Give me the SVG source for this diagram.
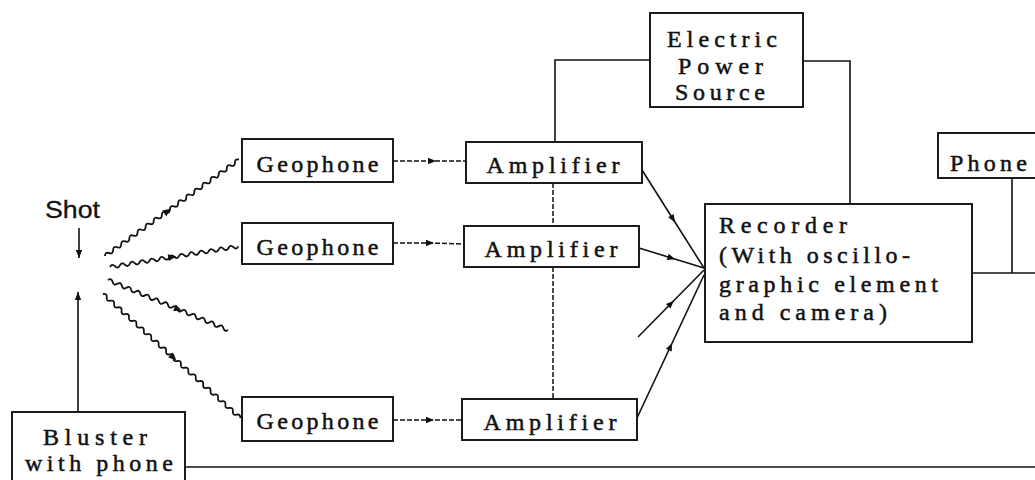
<svg xmlns="http://www.w3.org/2000/svg" width="1035" height="480" viewBox="0 0 1035 480">
<style>
.box{fill:#fff;stroke:#111;stroke-width:1.9}
.ln{fill:none;stroke:#111;stroke-width:1.6}
.dash{fill:none;stroke:#111;stroke-width:1.5;stroke-dasharray:5 2}
.wave{fill:none;stroke:#111;stroke-width:1.8;stroke-linejoin:round}
.t{font-family:"Liberation Serif","DejaVu Serif",serif;font-size:24px;fill:#111;stroke:#111;stroke-width:0.5}
.s{font-family:"Liberation Sans",Arial,sans-serif;font-size:23px;fill:#111;stroke:#111;stroke-width:0.3}
</style>
<defs>
<marker id="ah" viewBox="0 0 10 10" refX="5" refY="5" markerWidth="11" markerHeight="8" markerUnits="userSpaceOnUse" orient="auto">
<path d="M0,1 L10,5 L0,9 Z" fill="#111"/>
</marker>
<marker id="ah2" viewBox="0 0 10 10" refX="10" refY="5" markerWidth="12" markerHeight="8" markerUnits="userSpaceOnUse" orient="auto">
<path d="M0,1 L10,5 L0,9 Z" fill="#111"/>
</marker>
</defs>
<rect width="1035" height="480" fill="#fff"/>

<g id="connectors">
<!-- shot arrows -->
<path class="ln" d="M79,228 L79,258" marker-end="url(#ah2)"/>
<path class="ln" d="M78,412 L78,292" marker-end="url(#ah2)"/>
<!-- seismic waves -->
<g transform="translate(105,256) rotate(-35.7)">
<path class="wave" d="M0,0 q2.5,-3.5 5,0 t5,0 t5,0 t5,0 t5,0 t5,0 t5,0 t5,0 t5,0 t5,0 t5,0 t5,0 t5,0 t5,0 t5,0 t5,0 t5,0 t5,0 t5,0 t5,0 t5,0 t5,0 t5,0 t5,0 t5,0 t5,0 t5,0 t5,0 t5,0 t5,0 t5,0 t5,0 t5,0"/>
<path d="M73,-3.5 L81,0 L73,3.5 Z" fill="#111"/>
</g>
<g transform="translate(110,267) rotate(-9.1)">
<path class="wave" d="M0,0 q2.5,-3.5 5,0 t5,0 t5,0 t5,0 t5,0 t5,0 t5,0 t5,0 t5,0 t5,0 t5,0 t5,0 t5,0 t5,0 t5,0 t5,0 t5,0 t5,0 t5,0 t5,0 t5,0 t5,0 t5,0 t5,0 t5,0 t5,0"/>
<path d="M59,-3.5 L67,0 L59,3.5 Z" fill="#111"/>
</g>
<g transform="translate(108,280) rotate(22.6)">
<path class="wave" d="M0,0 q2.5,-3.5 5,0 t5,0 t5,0 t5,0 t5,0 t5,0 t5,0 t5,0 t5,0 t5,0 t5,0 t5,0 t5,0 t5,0 t5,0 t5,0 t5,0 t5,0 t5,0 t5,0 t5,0 t5,0 t5,0 t5,0 t5,0 t5,0"/>
<path d="M72,-3.5 L80,0 L72,3.5 Z" fill="#111"/>
</g>
<g transform="translate(103,294) rotate(42.1)">
<path class="wave" d="M0,0 q2.5,-3.5 5,0 t5,0 t5,0 t5,0 t5,0 t5,0 t5,0 t5,0 t5,0 t5,0 t5,0 t5,0 t5,0 t5,0 t5,0 t5,0 t5,0 t5,0 t5,0 t5,0 t5,0 t5,0 t5,0 t5,0 t5,0 t5,0 t5,0 t5,0 t5,0 t5,0 t5,0 t5,0 t5,0 t5,0 t5,0 t5,0 t5,0"/>
<path d="M91,-3.5 L99,0 L91,3.5 Z" fill="#111"/>
</g>
<!-- geophone to amplifier -->
<path class="dash" d="M393,161 L432,161 L466,161" marker-mid="url(#ah)"/>
<path class="dash" d="M393,243 L430,243 L464,244" marker-mid="url(#ah)"/>
<path class="dash" d="M393,420 L430,420 L462,420" marker-mid="url(#ah)"/>
<!-- amplifier interconnect -->
<path class="dash" d="M553,183 L553,226"/>
<path class="dash" d="M553,267 L553,399"/>
<!-- amplifiers to recorder -->
<path class="ln" d="M642,170 L673,219 L704,268" marker-mid="url(#ah)"/>
<path class="ln" d="M639,248 L671.5,258 L704,268" marker-mid="url(#ah)"/>
<path class="ln" d="M638,337 L671,303.5 L704,270" marker-mid="url(#ah)"/>
<path class="ln" d="M637,418 L670.5,346.5 L704,275" marker-mid="url(#ah)"/>
<!-- power -->
<path class="ln" d="M650,60 L555,60 L555,142"/>
<path class="ln" d="M803,61 L850,61 L850,204"/>
<!-- phone -->
<path class="ln" d="M1012,178 L1012,273"/>
<path class="ln" d="M972,273 L1035,273"/>
<!-- bluster line -->
<path class="ln" d="M185,467 L1035,467"/>
</g>

<g id="shot">
<text class="s" x="45" y="218" textLength="55" lengthAdjust="spacingAndGlyphs">Shot</text>
</g>

<g id="geophone1">
<rect class="box" x="242" y="139" width="151" height="43"/>
<text class="t" x="317.5" y="172" text-anchor="middle" textLength="122" lengthAdjust="spacing">Geophone</text>
</g>
<g id="geophone2">
<rect class="box" x="242" y="223" width="151" height="41"/>
<text class="t" x="317.5" y="255" text-anchor="middle" textLength="122" lengthAdjust="spacing">Geophone</text>
</g>
<g id="geophone3">
<rect class="box" x="242" y="397" width="151" height="44"/>
<text class="t" x="317.5" y="429" text-anchor="middle" textLength="122" lengthAdjust="spacing">Geophone</text>
</g>

<g id="amplifier1">
<rect class="box" x="466" y="142" width="176" height="41"/>
<text class="t" x="553" y="173" text-anchor="middle" textLength="133" lengthAdjust="spacing">Amplifier</text>
</g>
<g id="amplifier2">
<rect class="box" x="464" y="226" width="175" height="41"/>
<text class="t" x="551" y="257" text-anchor="middle" textLength="133" lengthAdjust="spacing">Amplifier</text>
</g>
<g id="amplifier3">
<rect class="box" x="462" y="399" width="175" height="41"/>
<text class="t" x="550" y="430" text-anchor="middle" textLength="133" lengthAdjust="spacing">Amplifier</text>
</g>

<g id="power">
<rect class="box" x="650" y="13" width="153" height="94"/>
<text class="t" x="722" y="47" text-anchor="middle" textLength="110" lengthAdjust="spacing">Electric</text>
<text class="t" x="720.5" y="74" text-anchor="middle" textLength="85" lengthAdjust="spacing">Power</text>
<text class="t" x="720" y="100" text-anchor="middle" textLength="90" lengthAdjust="spacing">Source</text>
</g>

<g id="recorder">
<rect class="box" x="705" y="204" width="267" height="138"/>
<text class="t" x="719" y="233" font-size="23" textLength="128" lengthAdjust="spacing">Recorder</text>
<text class="t" x="719" y="263" font-size="23" textLength="191" lengthAdjust="spacing">(With oscillo-</text>
<text class="t" x="719" y="292" font-size="23" textLength="219" lengthAdjust="spacing">graphic element</text>
<text class="t" x="719" y="320" font-size="23" textLength="168" lengthAdjust="spacing">and camera)</text>
</g>

<g id="phone">
<rect class="box" x="938" y="133" width="110" height="45"/>
<text class="t" x="950" y="171" textLength="77" lengthAdjust="spacing">Phone</text>
</g>

<g id="bluster">
<rect class="box" x="12" y="412" width="173" height="80"/>
<text class="t" x="95" y="445" font-size="23" text-anchor="middle" textLength="104" lengthAdjust="spacing">Bluster</text>
<text class="t" x="99" y="471" font-size="23" text-anchor="middle" textLength="148" lengthAdjust="spacing">with phone</text>
</g>
</svg>
